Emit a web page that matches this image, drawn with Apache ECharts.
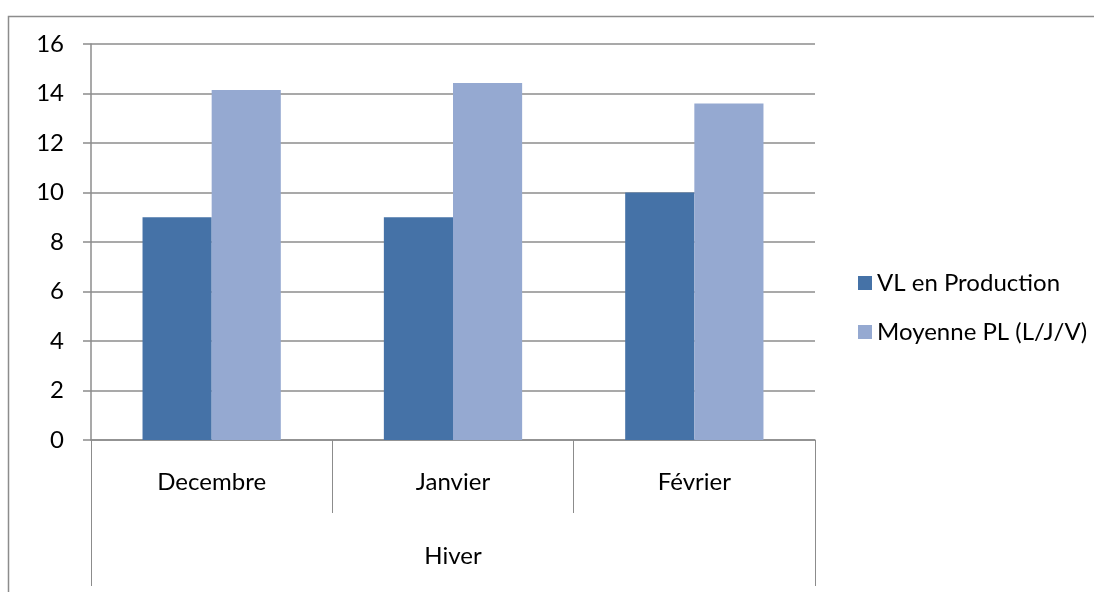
<!DOCTYPE html>
<html>
<head>
<meta charset="utf-8">
<script src="https://cdn.jsdelivr.net/npm/echarts@6/dist/echarts.min.js"></script>
<style>
  html, body { margin: 0; padding: 0; background: #fff; }
  #chart { width: 1102px; height: 592px; }
</style>
</head>
<body>
<div id="chart"></div>
<script>
// Months (inner level) and season (outer level) of the category axis
const months = ['Decembre', 'Janvier', 'Février'];
const seasons = ['Hiver'];

// Series values
const vlProduction = [9, 9, 10];
const moyennePL = [14.14, 14.42, 13.6];

const seriesNames = ['VL en Production', 'Moyenne PL (L/J/V)'];
const FONT = 'Lato, "Open Sans", sans-serif';
const FS = 24;

const chart = echarts.init(document.getElementById('chart'), null, { renderer: 'canvas' });

chart.setOption({
  animation: false,
  textStyle: { fontFamily: FONT },
  grid: { left: 91, right: 287, top: 44, bottom: 152, containLabel: false },
  legend: {
    orient: 'vertical',
    left: 853,
    top: 266,
    itemWidth: 14,
    itemHeight: 14,
    itemGap: 25,
    icon: 'rect',
    textStyle: { fontFamily: FONT, fontSize: FS, color: '#000', padding: [0, 0, 0, 0] },
    data: seriesNames
  },
  xAxis: [
    {
      type: 'category',
      data: months,
      position: 'bottom',
      axisLine: { show: true, lineStyle: { color: '#8c8c8c', width: 1.5 } },
      axisTick: { show: true, length: 73, interval: 0, lineStyle: { color: '#8c8c8c', width: 1 } },
      axisLabel: { margin: 30, fontFamily: FONT, fontSize: FS, color: '#000', interval: 0 },
      splitLine: { show: false }
    },
    {
      type: 'category',
      data: seasons,
      position: 'bottom',
      axisLine: { show: false },
      axisTick: { show: true, length: 146, lineStyle: { color: '#8c8c8c', width: 1 } },
      axisLabel: { margin: 104, fontFamily: FONT, fontSize: FS, color: '#000' },
      splitLine: { show: false }
    }
  ],
  yAxis: {
    type: 'value',
    min: 0,
    max: 16,
    interval: 2,
    axisLine: { show: true, lineStyle: { color: '#8c8c8c', width: 1.5 } },
    axisTick: { show: true, length: 8, lineStyle: { color: '#8c8c8c', width: 1.5 } },
    axisLabel: { margin: 27, fontFamily: FONT, fontSize: FS, color: '#000' },
    splitLine: { show: true, lineStyle: { color: '#8c8c8c', width: 1.5 } }
  },
  series: [
    {
      name: seriesNames[0],
      type: 'bar',
      xAxisIndex: 0,
      data: vlProduction,
      barGap: '0%',
      barCategoryGap: '42.7%',
      itemStyle: { color: '#4572a7' }
    },
    {
      name: seriesNames[1],
      type: 'bar',
      xAxisIndex: 0,
      data: moyennePL,
      barGap: '0%',
      barCategoryGap: '42.7%',
      itemStyle: { color: '#95a9d1' }
    }
  ],
  graphic: [
    {
      type: 'polyline',
      shape: { points: [[8.5, 592], [8.5, 16.5], [1094, 16.5]] },
      style: { stroke: '#8c8c8c', lineWidth: 1.5, fill: null },
      silent: true
    }
  ]
});
</script>
</body>
</html>
